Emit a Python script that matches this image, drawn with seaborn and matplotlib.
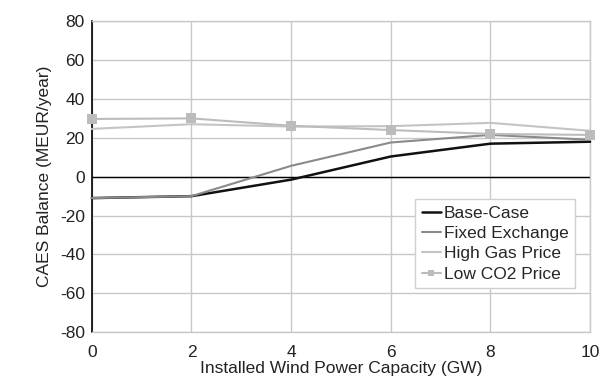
import numpy as np
import pandas as pd
import seaborn as sns
import matplotlib
matplotlib.use("Agg")
import matplotlib.pyplot as plt

# data
capacity = [0, 2, 4, 6, 8, 10]
base_case = [-11, -10, -1.5, 10.4, 17, 18]
fixed_exchange = [-11, -10, 5.6, 17.6, 21.5, 19]
high_gas = [24.6, 27, 25.8, 26, 27.7, 23.6]
low_co2 = [29.7, 30, 26.2, 24, 22, 21.5]

series_names = ["Base-Case", "Fixed Exchange", "High Gas Price", "Low CO2 Price"]
series_vals = [base_case, fixed_exchange, high_gas, low_co2]

df = pd.concat([pd.DataFrame({"cap": capacity, "val": v, "scenario": n})
                for n, v in zip(series_names, series_vals)], ignore_index=True)

sns.set_style("white")
plt.rcParams['font.family'] = ['Liberation Sans', 'DejaVu Sans']
plt.rcParams['axes.unicode_minus'] = False

fig = plt.figure(figsize=(6.04, 3.85), dpi=100)
ax = fig.add_axes([0.152, 0.137, 0.825, 0.808])

colors = {"Base-Case": "#111111", "Fixed Exchange": "#8a8a8a",
          "High Gas Price": "#c4c4c4", "Low CO2 Price": "#bcbcbc"}
widths = {"Base-Case": 1.8, "Fixed Exchange": 1.5,
          "High Gas Price": 1.5, "Low CO2 Price": 1.5}

ax.axhline(0, color="black", lw=1.0, zorder=2)
for name in series_names:
    sub = df[df["scenario"] == name]
    sns.lineplot(data=sub, x="cap", y="val", ax=ax, color=colors[name],
                 lw=widths[name], label=name, zorder=3, clip_on=False,
                 marker="s" if name == "Low CO2 Price" else None,
                 markersize=7, markeredgewidth=0)

ax.set_xlim(0, 10)
ax.set_ylim(-80, 80)
ax.set_xticks(capacity)
ax.set_yticks(np.arange(-80, 81, 20))
ax.grid(True, color="#c8c8c8", lw=1.0, zorder=0)
ax.set_axisbelow(True)
for s in ["top", "right", "bottom"]:
    ax.spines[s].set_color("#c8c8c8")
    ax.spines[s].set_linewidth(1.0)
ax.spines["left"].set_color("black")
ax.spines["left"].set_linewidth(1.2)

ax.tick_params(axis="both", length=0, labelsize=12.5, colors="#222222")
ax.tick_params(axis="x", pad=9)
ax.tick_params(axis="y", pad=5)
ax.set_xlabel("Installed Wind Power Capacity (GW)", fontsize=12.5, labelpad=1, color="#222222")
ax.set_ylabel("CAES Balance (MEUR/year)", fontsize=12.5, labelpad=6, color="#222222")

leg = ax.legend(loc="lower right", bbox_to_anchor=(0.987, 0.115), fontsize=12.5,
                frameon=True, fancybox=False, framealpha=1, edgecolor="#d0d0d0",
                handlelength=1.1, handletextpad=0.2, borderpad=0.35, labelspacing=0.3,
                markerscale=0.6)
leg.get_frame().set_linewidth(1.0)

fig.savefig("out.png", dpi=100)
